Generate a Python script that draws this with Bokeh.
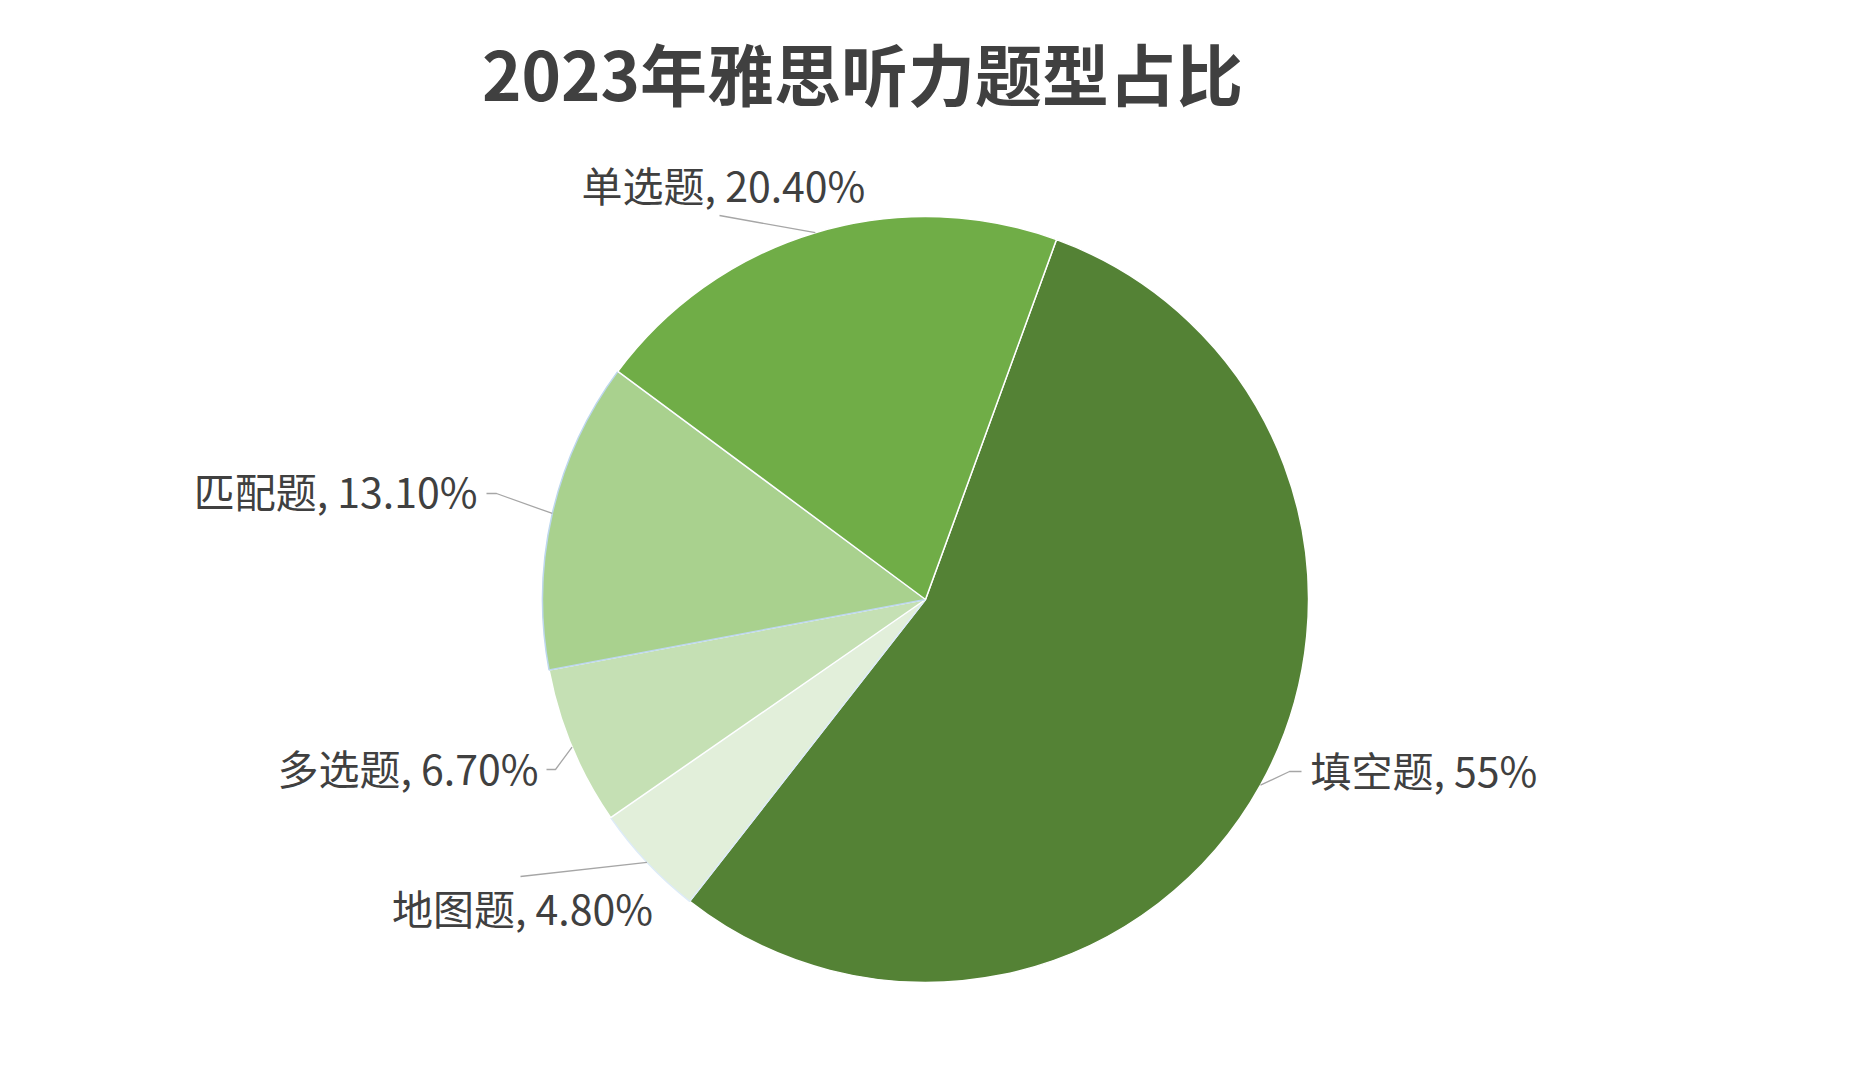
import math
from bokeh.plotting import figure
from bokeh.models import Range1d, ColumnDataSource
from bokeh.core.properties import value
from bokeh.embed import file_html
from bokeh.resources import INLINE

# ---- data ----
categories = ["填空题", "地图题", "多选题", "匹配题", "单选题"]
shares = [55.0, 4.8, 6.7, 13.1, 20.4]
share_labels = ["55%", "4.80%", "6.70%", "13.10%", "20.40%"]
title_text = "2023年雅思听力题型占比"

# ---- styles / layout ----
colors = ["#548235", "#E2EFDA", "#C5E0B4", "#A9D18E", "#70AD47"]
edge_colors = ["#FFFFFF", "#DDEBF7", "#FFFFFF", "#BDD7EE", "#FFFFFF"]
W, H = 1836, 1072
FONT = "Noto Sans CJK SC"
TXT = "#404040"
OFF = 4


def to_data(ix, iy):
    """image pixel -> data coordinates"""
    return ix - OFF, (H + OFF) - iy


cx, cy = to_data(929, 603)
R = 383
first_angle = 20.0  # degrees clockwise from 12 o'clock

# label anchor (image px), alignment, and elbow points (image px)
label_layout = [
    dict(pos=(1314, 772), align="left", elbow=[(1293, 775), (1305, 775)]),
    dict(pos=(526, 910), align="center", elbow=[(524, 880)]),
    dict(pos=(542, 770), align="right", elbow=[(559, 773), (550, 773)]),
    dict(pos=(481, 493), align="right", elbow=[(500, 497), (490, 497)]),
    dict(pos=(727, 187), align="center", elbow=[(723, 219)]),
]

p = figure(width=W, height=H, output_backend="svg", toolbar_location=None,
           x_range=Range1d(0, W), y_range=Range1d(0, H), min_border=0)
p.axis.visible = False
p.grid.visible = False
p.outline_line_color = None
p.background_fill_color = "white"

total = sum(shares)
starts, ends, mids = [], [], []
acc = first_angle
for v in shares:
    sweep = v / total * 360.0
    theta_s, theta_e = acc, acc + sweep
    starts.append(math.radians(90 - theta_s))
    ends.append(math.radians(90 - theta_e))
    mids.append((theta_s + theta_e) / 2)
    acc = theta_e

src = ColumnDataSource(dict(start=starts, end=ends, color=colors, edge=edge_colors,
                            cat=categories))
p.wedge(x=cx, y=cy, radius=R, start_angle="start", end_angle="end", direction="clock",
        fill_color="color", line_color="edge", line_width=1.5, source=src)

# leader lines
for m, lay in zip(mids, label_layout):
    ax = cx + R * math.sin(math.radians(m))
    ay = cy + R * math.cos(math.radians(m))
    xs, ys = [ax], [ay]
    for (ex, ey) in lay["elbow"]:
        dx, dy = to_data(ex, ey)
        xs.append(dx)
        ys.append(dy)
    p.line(xs, ys, line_color="#A6A6A6", line_width=1.3)

# labels
for c, s, lay in zip(categories, share_labels, label_layout):
    lx, ly = to_data(*lay["pos"])
    p.text(x=[lx], y=[ly], text=[f"{c}, {s}"], text_font=value(FONT),
           text_font_size="41px", text_color=TXT, text_align=lay["align"],
           text_baseline="middle")

# title
tx, ty = to_data(866, 75)
p.text(x=[tx], y=[ty], text=[title_text], text_font=value(FONT),
       text_font_size="67px", text_font_style="bold", text_color=TXT,
       text_align="center", text_baseline="middle")

open("out.html", "w").write(file_html(p, INLINE))
